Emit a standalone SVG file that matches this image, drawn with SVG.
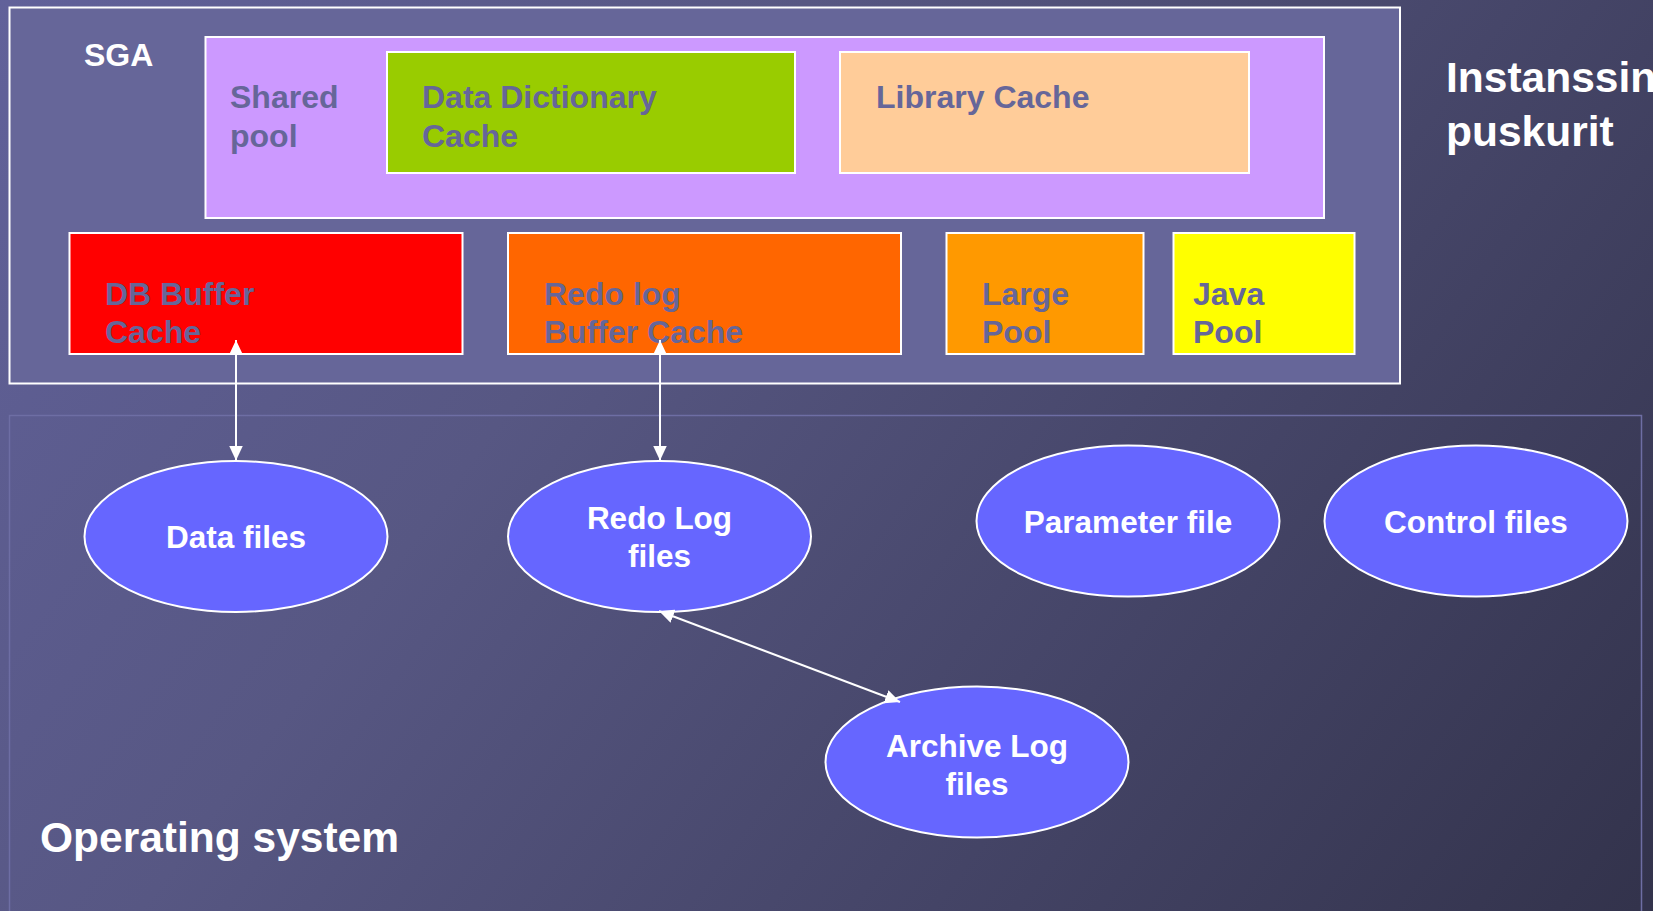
<svg xmlns="http://www.w3.org/2000/svg" width="1653" height="911" viewBox="0 0 1653 911">
<defs>
<linearGradient id="bg" gradientUnits="userSpaceOnUse" x1="0" y1="0" x2="1500" y2="1100">
<stop offset="0" stop-color="#61619A"/>
<stop offset="0.35" stop-color="#575783"/>
<stop offset="1" stop-color="#33334C"/>
</linearGradient>
<marker id="ah" viewBox="0 0 15 14" refX="15" refY="7" markerWidth="15" markerHeight="14" markerUnits="userSpaceOnUse" orient="auto-start-reverse">
<path d="M0,0 L15,7 L0,14 z" fill="#FFFFFF"/>
</marker>
<style>
.box{stroke:#FFFFFF;stroke-width:2}
.bt{font-family:"Liberation Sans",Arial,sans-serif;font-weight:bold;font-size:32px;fill:#666699}
.wt{font-family:"Liberation Sans",Arial,sans-serif;font-weight:bold;font-size:32px;fill:#FFFFFF}
.big{font-family:"Liberation Sans",Arial,sans-serif;font-weight:bold;font-size:42.5px;fill:#FFFFFF}
.ell{fill:#6666FF;stroke:#FFFFFF;stroke-width:2}
.et{font-family:"Liberation Sans",Arial,sans-serif;font-weight:bold;font-size:31.5px;fill:#FFFFFF;text-anchor:middle}
.conn{stroke:#FFFFFF;stroke-width:2;fill:none;marker-start:url(#ah);marker-end:url(#ah)}
</style>
</defs>
<rect x="0" y="0" width="1653" height="911" fill="url(#bg)"/>

<g id="os">
<rect x="9.5" y="415.5" width="1632" height="520" fill="none" stroke="#6E6EA4" stroke-width="1.5"/>
<text class="big" x="40" y="852">Operating system</text>
</g>

<g id="sga">
<rect x="9.5" y="7.5" width="1390.5" height="376" fill="#666699" stroke="#FFFFFF" stroke-width="2"/>
<text class="wt" x="84" y="66">SGA</text>
</g>

<g id="instance-label">
<text class="big" x="1446" y="92">Instanssin</text>
<text class="big" x="1446" y="146">puskurit</text>
</g>

<g id="shared-pool">
<rect class="box" x="205.5" y="37" width="1118.5" height="181" fill="#CC99FF"/>
<text class="bt" x="230" y="107.5">Shared</text>
<text class="bt" x="230" y="146.5">pool</text>
</g>

<g id="data-dictionary-cache">
<rect class="box" x="387" y="52" width="408" height="121" fill="#99CC00"/>
<text class="bt" x="422" y="107.5">Data Dictionary</text>
<text class="bt" x="422" y="146.5">Cache</text>
</g>

<g id="library-cache">
<rect class="box" x="840" y="52" width="409" height="121" fill="#FFCC99"/>
<text class="bt" x="876" y="107.5">Library Cache</text>
</g>

<g id="db-buffer-cache">
<rect class="box" x="69.5" y="233" width="393" height="121" fill="#FF0000"/>
<text class="bt" x="105" y="305">DB Buffer</text>
<text class="bt" x="105" y="343">Cache</text>
</g>

<g id="redo-log-buffer-cache">
<rect class="box" x="508" y="233" width="393" height="121" fill="#FF6600"/>
<text class="bt" x="544" y="305">Redo log</text>
<text class="bt" x="544" y="343">Buffer Cache</text>
</g>

<g id="large-pool">
<rect class="box" x="946.5" y="233" width="197" height="121" fill="#FF9900"/>
<text class="bt" x="982" y="305">Large</text>
<text class="bt" x="982" y="343">Pool</text>
</g>

<g id="java-pool">
<rect class="box" x="1173.5" y="233" width="181" height="121" fill="#FFFF00"/>
<text class="bt" x="1193" y="305">Java</text>
<text class="bt" x="1193" y="343">Pool</text>
</g>

<g id="data-files">
<ellipse class="ell" cx="236" cy="536.5" rx="151.5" ry="75.5"/>
<text class="et" x="236" y="548">Data files</text>
</g>

<g id="redo-log-files">
<ellipse class="ell" cx="659.5" cy="536.5" rx="151.5" ry="75.5"/>
<text class="et" x="659.5" y="529">Redo Log</text>
<text class="et" x="659.5" y="567">files</text>
</g>

<g id="parameter-file">
<ellipse class="ell" cx="1128" cy="521" rx="151.5" ry="75.5"/>
<text class="et" x="1128" y="533">Parameter file</text>
</g>

<g id="control-files">
<ellipse class="ell" cx="1476" cy="521" rx="151.5" ry="75.5"/>
<text class="et" x="1476" y="533">Control files</text>
</g>

<g id="archive-log-files">
<ellipse class="ell" cx="977" cy="762" rx="151.5" ry="75.5"/>
<text class="et" x="977" y="757">Archive Log</text>
<text class="et" x="977" y="795">files</text>
</g>

<g id="connectors">
<line class="conn" x1="236" y1="340" x2="236" y2="460.5"/>
<line class="conn" x1="660" y1="340" x2="660" y2="460.5"/>
<line class="conn" x1="659" y1="611" x2="900" y2="702"/>
</g>
</svg>
